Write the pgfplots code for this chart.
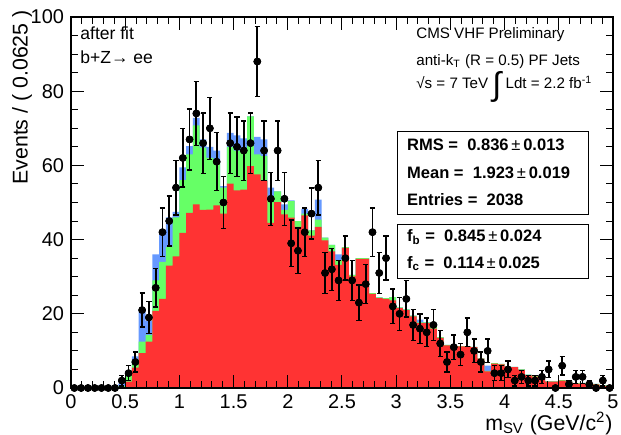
\documentclass[border=0pt]{standalone}
\usepackage{pgfplots}
\usepackage{pgfplotstable}
\pgfplotsset{compat=1.18}
\usepackage{fontspec}
\setmainfont{Liberation Sans}
\definecolor{rootred}{RGB}{255,51,51}
\definecolor{rootgreen}{RGB}{102,255,102}
\definecolor{rootblue}{RGB}{102,153,255}
\pgfplotstableread{
xl xc d e r g t
0 0.03125 0 0 0 0 0
0.0625 0.09375 0 0 0 0 0
0.125 0.15625 0 0 0 0 0
0.1875 0.21875 0 0 0 0 0
0.25 0.28125 0 0 0 0 0
0.3125 0.34375 0 0 0 0 0
0.375 0.40625 0 0 0 0 0
0.4375 0.46875 2 1.41 0 0.5 1.2
0.5 0.53125 4 2 1.7 3.5 4.5
0.5625 0.59375 7 2.65 5.5 7.5 8.5
0.625 0.65625 21 4.58 9.4 12.5 20.6
0.6875 0.71875 19 4.36 12.5 14.3 18
0.75 0.78125 27 5.2 20.8 29 36
0.8125 0.84375 42 6.48 24 34 42
0.875 0.90625 45 6.71 33 38 46
0.9375 0.96875 54 7.35 35.5 46 47.5
1.0 1.03125 62 7.87 41.8 56 59.5
1.0625 1.09375 67 8.19 47.2 63 65.2
1.125 1.15625 74 8.6 49.5 70.8 72.8
1.1875 1.21875 66 8.12 48 64.8 67
1.25 1.28125 70 8.37 48.1 62 65
1.3125 1.34375 61 7.81 49.2 61 64
1.375 1.40625 50 7.07 47 54 54.4
1.4375 1.46875 66 8.12 55.1 65 68.8
1.5 1.53125 65 8.06 53.3 64 68.1
1.5625 1.59375 64 8 53.5 64 67.3
1.625 1.65625 66 8.12 59.8 73.2 73.2
1.6875 1.71875 88 9.38 57.6 63 67.7
1.75 1.78125 64 8 55.8 62.5 67
1.8125 1.84375 51 7.14 44.5 51.3 54
1.875 1.90625 64 8 50.1 53 53
1.9375 1.96875 51 7.14 46.8 48 49.5
2.0 2.03125 39 6.24 45.9 50.4 50.6
2.0625 2.09375 37 6.08 43.4 45 45
2.125 2.15625 42 6.48 46.5 47 48.3
2.1875 2.21875 47 6.86 41.1 42.5 42.5
2.25 2.28125 54 7.35 43.4 45.4 50.8
2.3125 2.34375 31 5.57 39.8 40.5 40.5
2.375 2.40625 32 5.66 36.8 38.6 38.6
2.4375 2.46875 29 5.39 33.2 34.5 36
2.5 2.53125 35 5.92 37.8 38 38
2.5625 2.59375 29 5.39 30.1 30.5 30.5
2.625 2.65625 23 4.8 34.8 35 35
2.6875 2.71875 28 5.29 34.8 35 35
2.75 2.78125 42 6.48 25.4 25.6 25.6
2.8125 2.84375 31 5.57 24.2 24.4 24.4
2.875 2.90625 35 5.92 24 24.2 24.2
2.9375 2.96875 22 4.69 23.6 24.5 24.5
3.0 3.03125 20 4.47 21.5 21.7 21.7
3.0625 3.09375 24 4.9 21 21.2 21.2
3.125 3.15625 17 4.12 19.3 19.5 19.5
3.1875 3.21875 16 4 17.5 17.7 18.4
3.25 3.28125 15 3.87 17.5 17.7 17.7
3.3125 3.34375 17 4.12 16 16.6 16.6
3.375 3.40625 12 3.46 13.5 13.7 13.7
3.4375 3.46875 7 2.65 11.5 11.6 11.6
3.5 3.53125 11 3.32 11.4 11.5 11.5
3.5625 3.59375 9 3 11.2 11.3 11.3
3.625 3.65625 15 3.87 11.2 11.3 11.3
3.6875 3.71875 10 3.16 11 11.1 11.1
3.75 3.78125 7 2.65 7.9 8 8
3.8125 3.84375 10 3.16 4.5 4.6 6
3.875 3.90625 4 2 6.6 6.7 6.7
3.9375 3.96875 4 2 6.4 6.5 6.5
4.0 4.03125 5 2.24 5.6 5.7 5.7
4.0625 4.09375 2 1.41 5.6 5.7 5.7
4.125 4.15625 3 1.73 4.9 5 5
4.1875 4.21875 2 1.41 3.5 3.6 3.6
4.25 4.28125 2 1.41 3.1 3.2 3.2
4.3125 4.34375 3 1.73 2.9 3 3
4.375 4.40625 5 2.24 1.7 1.8 1.8
4.4375 4.46875 0 0 1.7 1.8 1.8
4.5 4.53125 6 2.45 2 2.1 2.1
4.5625 4.59375 1 1 1.7 1.8 1.8
4.625 4.65625 3 1.73 1.2 1.3 1.3
4.6875 4.71875 3 1.73 1.2 1.4 1.4
4.75 4.78125 1 1 0.7 0.8 0.8
4.8125 4.84375 0 0 1 1.1 1.1
4.875 4.90625 2 1.41 0.6 0.7 0.7
4.9375 4.96875 0 0 0.6 0.7 0.7
5 nan nan nan 0.6 0.7 0.7
}\hist
\begin{document}
\begin{tikzpicture}
\useasboundingbox (-35.5bp,-23.5bp) rectangle (275bp,194bp);
\begin{axis}[
  scale only axis, width=271bp, height=185.5bp,
  xmin=0, xmax=5, ymin=0, ymax=100,
  xtick={0,0.5,1,1.5,2,2.5,3,3.5,4,4.5,5},
  minor x tick num=4,
  ytick={0,20,40,60,80,100},
  minor y tick num=3,
  tick align=inside, xtick pos=both, ytick pos=both,
  major tick length=6.5bp, minor tick length=3.5bp,
  axis line style={line width=0.6bp},
  every tick/.style={black, line width=0.5bp},
  tick label style={font=\fontsize{10}{12}\selectfont},
  /pgf/number format/assume math mode=true,
  xlabel={m\textsubscript{SV} (GeV/c\textsuperscript{2})},
  ylabel={Events / ( 0.0625 )},
  label style={font=\fontsize{10.7}{12}\selectfont},
  xlabel style={at={(axis description cs:1,-0.064)}, anchor=north east, inner sep=0pt},
  ylabel style={at={(axis description cs:-0.0904,1.019)}, anchor=east, inner sep=0pt},
  axis on top,
  clip=false,
]
\addplot[fill=rootblue, draw=none, const plot] table[x=xl, y=t] {\hist} \closedcycle;
\addplot[fill=rootgreen, draw=none, const plot] table[x=xl, y=g] {\hist} \closedcycle;
\addplot[fill=rootred, draw=none, const plot] table[x=xl, y=r] {\hist} \closedcycle;
\addplot[black, only marks, mark=*, mark size=1.7bp,
  error bars/.cd, x dir=both, x fixed=0.03125, error mark=none,
  error bar style={line width=0.9bp, black}]
  table[x=xc, y=d] {\hist};
\addplot[black, only marks, mark=*, mark size=1.7bp,
  error bars/.cd, y dir=both, y explicit,
  error bar style={line width=0.9bp, black},
  error mark options={rotate=90, mark size=1.3bp, line width=0.7bp, black}]
  table[x=xc, y=d, y error=e] {\hist};

\node[anchor=west, inner sep=0pt, font=\fontsize{8.8}{10}\selectfont] at (rel axis cs:0.0166,0.957) {after fit};
\node[anchor=west, inner sep=0pt, font=\fontsize{8.8}{10}\selectfont] at (rel axis cs:0.0166,0.892) {b+Z→ ee};

\node[anchor=west, inner sep=0pt, font=\fontsize{7.6}{9}\selectfont] at (rel axis cs:0.6365,0.9515) {CMS VHF Preliminary};
\node[anchor=west, inner sep=0pt, font=\fontsize{7.6}{9}\selectfont] at (rel axis cs:0.6365,0.8796) {anti-k\textsubscript{T} (R = 0.5) PF Jets};
\node[anchor=west, inner sep=0pt, font=\fontsize{7.6}{9}\selectfont] at (rel axis cs:0.6365,0.812) {√s = 7 TeV \raisebox{-3.3bp}{\fontsize{16.4}{17}\selectfont ∫} Ldt = 2.2 fb\textsuperscript{-1}};

\draw[line width=0.5bp, fill=white] (rel axis cs:0.6015,0.469) rectangle (rel axis cs:0.9557,0.6908);
\draw[line width=0.5bp, fill=white] (rel axis cs:0.6015,0.2957) rectangle (rel axis cs:0.9557,0.442);
\node[anchor=west, inner sep=0pt, font=\bfseries\fontsize{8.3}{10}\selectfont] at (rel axis cs:0.6194,0.655) {RMS =\ \ 0.836\,{\mdseries ±}\,0.013};
\node[anchor=west, inner sep=0pt, font=\bfseries\fontsize{8.3}{10}\selectfont] at (rel axis cs:0.6194,0.5787) {Mean =\ \ 1.923\,{\mdseries ±}\,0.019};
\node[anchor=west, inner sep=0pt, font=\bfseries\fontsize{8.3}{10}\selectfont] at (rel axis cs:0.6194,0.5067) {Entries =\ \ 2038};
\node[anchor=west, inner sep=0pt, font=\bfseries\fontsize{8.3}{10}\selectfont] at (rel axis cs:0.6194,0.408) {f\textsubscript{b} =\ \ 0.845\,{\mdseries ±}\,0.024};
\node[anchor=west, inner sep=0pt, font=\bfseries\fontsize{8.3}{10}\selectfont] at (rel axis cs:0.6194,0.336) {f\textsubscript{c} =\ \ 0.114\,{\mdseries ±}\,0.025};
\end{axis}
\end{tikzpicture}
\end{document}
